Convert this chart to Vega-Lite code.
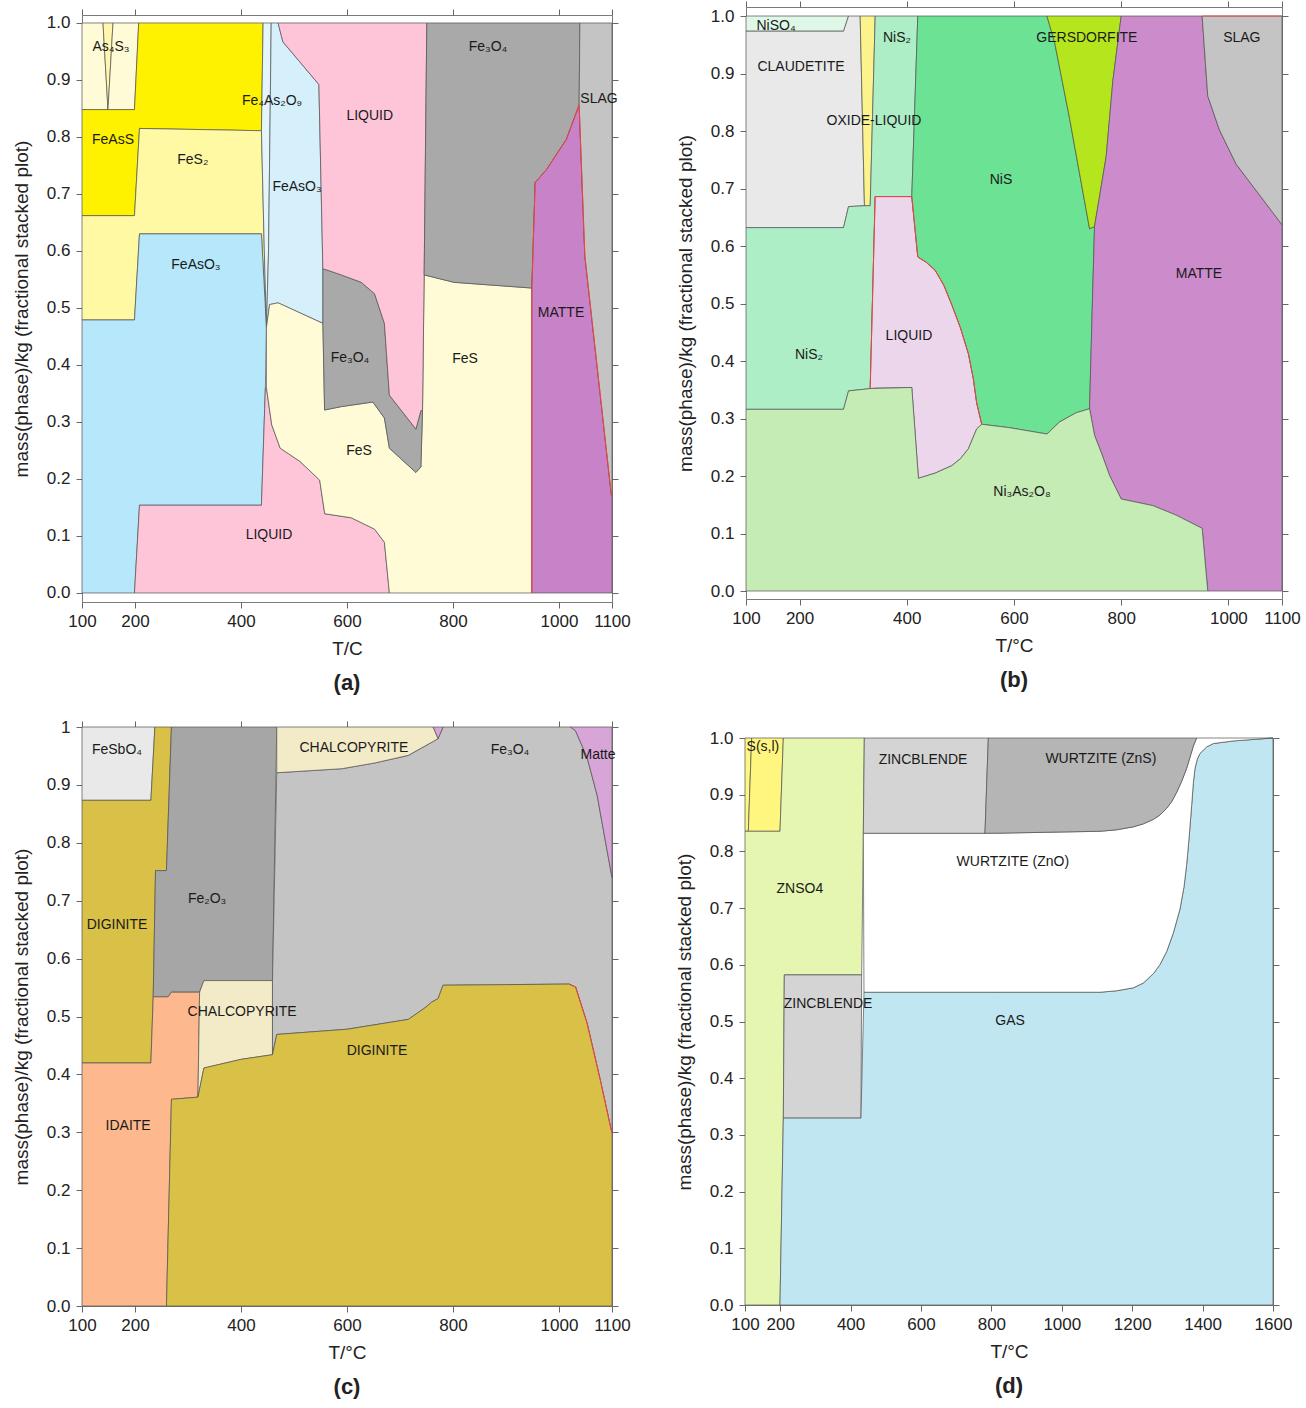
{
"$schema": "https://vega.github.io/schema/vega-lite/v6.json",
"padding": {"left": 11, "top": 0, "right": 0, "bottom": 0},
"background": "white",
"config": {
 "font": "Liberation Sans",
 "view": {"stroke": "#7a7a7a", "strokeWidth": 1},
 "axis": {"labelFontSize": 17, "titleFontSize": 19, "titleFontWeight": "normal", "labelColor": "#222", "titleColor": "#222", "tickColor": "#666", "tickSize": 6, "domain": false, "grid": false, "labelFlush": false, "labelOverlap": false, "labelPadding": 6},
 "axisX": {"labelPadding": 5, "titlePadding": 10},
 "axisY": {"titlePadding": 15},
 "text": {"fontSize": 14, "color": "#1a1a1a", "font": "Liberation Sans"}
},
"datasets": {
 "poly": [
  {"p":"a","r":"a01","T":100,"m":0.848},{"p":"a","r":"a01","T":100,"m":1.0},{"p":"a","r":"a01","T":139.6,"m":1.0},{"p":"a","r":"a01","T":149,"m":0.848},
  {"p":"a","r":"a02","T":139.6,"m":1.0},{"p":"a","r":"a02","T":158.5,"m":1.0},{"p":"a","r":"a02","T":149,"m":0.848},
  {"p":"a","r":"a03","T":158.5,"m":1.0},{"p":"a","r":"a03","T":207,"m":1.0},{"p":"a","r":"a03","T":199,"m":0.848},{"p":"a","r":"a03","T":149,"m":0.848},
  {"p":"a","r":"a04","T":100,"m":0.662},{"p":"a","r":"a04","T":100,"m":0.848},{"p":"a","r":"a04","T":199,"m":0.848},{"p":"a","r":"a04","T":207,"m":1.0},{"p":"a","r":"a04","T":441.7,"m":1.0},{"p":"a","r":"a04","T":438.6,"m":0.811},{"p":"a","r":"a04","T":208.5,"m":0.815},{"p":"a","r":"a04","T":199,"m":0.662},
  {"p":"a","r":"a05","T":100,"m":0.479},{"p":"a","r":"a05","T":100,"m":0.662},{"p":"a","r":"a05","T":199,"m":0.662},{"p":"a","r":"a05","T":208.5,"m":0.815},{"p":"a","r":"a05","T":438.6,"m":0.811},{"p":"a","r":"a05","T":444,"m":0.6},{"p":"a","r":"a05","T":448,"m":0.466},{"p":"a","r":"a05","T":438.6,"m":0.63},{"p":"a","r":"a05","T":208.5,"m":0.63},{"p":"a","r":"a05","T":199,"m":0.479},
  {"p":"a","r":"a06","T":100,"m":0},{"p":"a","r":"a06","T":100,"m":0.479},{"p":"a","r":"a06","T":199,"m":0.479},{"p":"a","r":"a06","T":208.5,"m":0.63},{"p":"a","r":"a06","T":438.6,"m":0.63},{"p":"a","r":"a06","T":448,"m":0.466},{"p":"a","r":"a06","T":446,"m":0.36},{"p":"a","r":"a06","T":438.6,"m":0.154},{"p":"a","r":"a06","T":208.5,"m":0.154},{"p":"a","r":"a06","T":199,"m":0},
  {"p":"a","r":"a07","T":441.7,"m":1.0},{"p":"a","r":"a07","T":457,"m":1.0},{"p":"a","r":"a07","T":452,"m":0.6},{"p":"a","r":"a07","T":448,"m":0.466},{"p":"a","r":"a07","T":444,"m":0.6},{"p":"a","r":"a07","T":438.6,"m":0.811},
  {"p":"a","r":"a08","T":457,"m":1.0},{"p":"a","r":"a08","T":470,"m":1.0},{"p":"a","r":"a08","T":479,"m":0.967},{"p":"a","r":"a08","T":547,"m":0.892},{"p":"a","r":"a08","T":554.5,"m":0.568},{"p":"a","r":"a08","T":554.5,"m":0.473},{"p":"a","r":"a08","T":470,"m":0.509},{"p":"a","r":"a08","T":454,"m":0.506},{"p":"a","r":"a08","T":448,"m":0.466},{"p":"a","r":"a08","T":452,"m":0.6},
  {"p":"a","r":"a09","T":199,"m":0},{"p":"a","r":"a09","T":208.5,"m":0.154},{"p":"a","r":"a09","T":438.6,"m":0.154},{"p":"a","r":"a09","T":446,"m":0.36},{"p":"a","r":"a09","T":448,"m":0.36},{"p":"a","r":"a09","T":458,"m":0.295},{"p":"a","r":"a09","T":474,"m":0.254},{"p":"a","r":"a09","T":511,"m":0.231},{"p":"a","r":"a09","T":548.5,"m":0.198},{"p":"a","r":"a09","T":558,"m":0.139},{"p":"a","r":"a09","T":608,"m":0.132},{"p":"a","r":"a09","T":652,"m":0.112},{"p":"a","r":"a09","T":670.6,"m":0.089},{"p":"a","r":"a09","T":680,"m":0},
  {"p":"a","r":"a10","T":448,"m":0.466},{"p":"a","r":"a10","T":454,"m":0.506},{"p":"a","r":"a10","T":470,"m":0.509},{"p":"a","r":"a10","T":554.5,"m":0.473},{"p":"a","r":"a10","T":557.7,"m":0.321},{"p":"a","r":"a10","T":589.4,"m":0.327},{"p":"a","r":"a10","T":648.75,"m":0.335},{"p":"a","r":"a10","T":670.6,"m":0.307},{"p":"a","r":"a10","T":680,"m":0.254},{"p":"a","r":"a10","T":730,"m":0.2115},{"p":"a","r":"a10","T":739.4,"m":0.221},{"p":"a","r":"a10","T":742.5,"m":0.32},{"p":"a","r":"a10","T":745.6,"m":0.558},{"p":"a","r":"a10","T":801.9,"m":0.545},{"p":"a","r":"a10","T":948.75,"m":0.535},{"p":"a","r":"a10","T":948.75,"m":0},{"p":"a","r":"a10","T":680,"m":0},{"p":"a","r":"a10","T":670.6,"m":0.089},{"p":"a","r":"a10","T":652,"m":0.112},{"p":"a","r":"a10","T":608,"m":0.132},{"p":"a","r":"a10","T":558,"m":0.139},{"p":"a","r":"a10","T":548.5,"m":0.198},{"p":"a","r":"a10","T":511,"m":0.231},{"p":"a","r":"a10","T":474,"m":0.254},{"p":"a","r":"a10","T":458,"m":0.295},{"p":"a","r":"a10","T":448,"m":0.36},
  {"p":"a","r":"a11","T":554.5,"m":0.473},{"p":"a","r":"a11","T":554.5,"m":0.568},{"p":"a","r":"a11","T":557.7,"m":0.568},{"p":"a","r":"a11","T":589.4,"m":0.558},{"p":"a","r":"a11","T":627,"m":0.545},{"p":"a","r":"a11","T":652,"m":0.525},{"p":"a","r":"a11","T":670.6,"m":0.473},{"p":"a","r":"a11","T":680,"m":0.347},{"p":"a","r":"a11","T":730,"m":0.2875},{"p":"a","r":"a11","T":739.4,"m":0.32},{"p":"a","r":"a11","T":742.5,"m":0.32},{"p":"a","r":"a11","T":739.4,"m":0.221},{"p":"a","r":"a11","T":730,"m":0.2115},{"p":"a","r":"a11","T":680,"m":0.254},{"p":"a","r":"a11","T":670.6,"m":0.307},{"p":"a","r":"a11","T":648.75,"m":0.335},{"p":"a","r":"a11","T":589.4,"m":0.327},{"p":"a","r":"a11","T":557.7,"m":0.321},
  {"p":"a","r":"a12","T":470,"m":1.0},{"p":"a","r":"a12","T":750.6,"m":1.0},{"p":"a","r":"a12","T":745.6,"m":0.558},{"p":"a","r":"a12","T":742.5,"m":0.32},{"p":"a","r":"a12","T":739.4,"m":0.32},{"p":"a","r":"a12","T":730,"m":0.2875},{"p":"a","r":"a12","T":680,"m":0.347},{"p":"a","r":"a12","T":670.6,"m":0.473},{"p":"a","r":"a12","T":652,"m":0.525},{"p":"a","r":"a12","T":627,"m":0.545},{"p":"a","r":"a12","T":589.4,"m":0.558},{"p":"a","r":"a12","T":557.7,"m":0.568},{"p":"a","r":"a12","T":554.5,"m":0.568},{"p":"a","r":"a12","T":547,"m":0.892},{"p":"a","r":"a12","T":479,"m":0.967},
  {"p":"a","r":"a13","T":750.6,"m":1.0},{"p":"a","r":"a13","T":1039.4,"m":1.0},{"p":"a","r":"a13","T":1038,"m":0.856},{"p":"a","r":"a13","T":1014,"m":0.796},{"p":"a","r":"a13","T":977,"m":0.7435},{"p":"a","r":"a13","T":955,"m":0.72},{"p":"a","r":"a13","T":948.75,"m":0.535},{"p":"a","r":"a13","T":801.9,"m":0.545},{"p":"a","r":"a13","T":745.6,"m":0.558},
  {"p":"a","r":"a14","T":948.75,"m":0},{"p":"a","r":"a14","T":948.75,"m":0.535},{"p":"a","r":"a14","T":955,"m":0.72},{"p":"a","r":"a14","T":977,"m":0.7435},{"p":"a","r":"a14","T":1014,"m":0.796},{"p":"a","r":"a14","T":1038,"m":0.856},{"p":"a","r":"a14","T":1048.75,"m":0.5915},{"p":"a","r":"a14","T":1098.75,"m":0.172},{"p":"a","r":"a14","T":1100,"m":0.172},{"p":"a","r":"a14","T":1100,"m":0},
  {"p":"a","r":"a15","T":1039.4,"m":1.0},{"p":"a","r":"a15","T":1100,"m":1.0},{"p":"a","r":"a15","T":1100,"m":0.172},{"p":"a","r":"a15","T":1098.75,"m":0.172},{"p":"a","r":"a15","T":1048.75,"m":0.5915},{"p":"a","r":"a15","T":1038,"m":0.856},

  {"p":"b","r":"b01","T":100,"m":0.9736},{"p":"b","r":"b01","T":100,"m":1.0},{"p":"b","r":"b01","T":291.3,"m":1.0},{"p":"b","r":"b01","T":282,"m":0.9736},
  {"p":"b","r":"b02","T":100,"m":0.632},{"p":"b","r":"b02","T":100,"m":0.9736},{"p":"b","r":"b02","T":282,"m":0.9736},{"p":"b","r":"b02","T":291.3,"m":1.0},{"p":"b","r":"b02","T":313,"m":1.0},{"p":"b","r":"b02","T":321,"m":0.67},{"p":"b","r":"b02","T":291.3,"m":0.6686},{"p":"b","r":"b02","T":282,"m":0.632},
  {"p":"b","r":"b03","T":313,"m":1.0},{"p":"b","r":"b03","T":341,"m":1.0},{"p":"b","r":"b03","T":331.7,"m":0.67},{"p":"b","r":"b03","T":321,"m":0.67},
  {"p":"b","r":"b04","T":100,"m":0.316},{"p":"b","r":"b04","T":100,"m":0.632},{"p":"b","r":"b04","T":282,"m":0.632},{"p":"b","r":"b04","T":291.3,"m":0.6686},{"p":"b","r":"b04","T":321,"m":0.67},{"p":"b","r":"b04","T":331.7,"m":0.67},{"p":"b","r":"b04","T":341,"m":1.0},{"p":"b","r":"b04","T":420.5,"m":1.0},{"p":"b","r":"b04","T":409.3,"m":0.686},{"p":"b","r":"b04","T":341,"m":0.686},{"p":"b","r":"b04","T":331.7,"m":0.352},{"p":"b","r":"b04","T":291.3,"m":0.348},{"p":"b","r":"b04","T":282,"m":0.316},
  {"p":"b","r":"b05","T":341,"m":0.686},{"p":"b","r":"b05","T":409.3,"m":0.686},{"p":"b","r":"b05","T":420.5,"m":0.581},{"p":"b","r":"b05","T":436,"m":0.572},{"p":"b","r":"b05","T":452.8,"m":0.558},{"p":"b","r":"b05","T":469,"m":0.532},{"p":"b","r":"b05","T":483.9,"m":0.498},{"p":"b","r":"b05","T":500,"m":0.458},{"p":"b","r":"b05","T":515,"m":0.4125},{"p":"b","r":"b05","T":524,"m":0.37},{"p":"b","r":"b05","T":530.4,"m":0.327},{"p":"b","r":"b05","T":539.8,"m":0.29},{"p":"b","r":"b05","T":530.4,"m":0.282},{"p":"b","r":"b05","T":515,"m":0.2475},{"p":"b","r":"b05","T":500,"m":0.23},{"p":"b","r":"b05","T":483.9,"m":0.218},{"p":"b","r":"b05","T":452.8,"m":0.205},{"p":"b","r":"b05","T":421.7,"m":0.196},{"p":"b","r":"b05","T":409.3,"m":0.354},{"p":"b","r":"b05","T":341,"m":0.353},{"p":"b","r":"b05","T":331.7,"m":0.352},
  {"p":"b","r":"b06","T":420.5,"m":1.0},{"p":"b","r":"b06","T":661.5,"m":1.0},{"p":"b","r":"b06","T":675.8,"m":0.954},{"p":"b","r":"b06","T":703.7,"m":0.822},{"p":"b","r":"b06","T":741,"m":0.63},{"p":"b","r":"b06","T":750.3,"m":0.634},{"p":"b","r":"b06","T":746,"m":0.492},{"p":"b","r":"b06","T":741,"m":0.317},{"p":"b","r":"b06","T":716,"m":0.31},{"p":"b","r":"b06","T":685,"m":0.294},{"p":"b","r":"b06","T":661.5,"m":0.273},{"p":"b","r":"b06","T":591.9,"m":0.284},{"p":"b","r":"b06","T":539.8,"m":0.29},{"p":"b","r":"b06","T":530.4,"m":0.327},{"p":"b","r":"b06","T":524,"m":0.37},{"p":"b","r":"b06","T":515,"m":0.4125},{"p":"b","r":"b06","T":500,"m":0.458},{"p":"b","r":"b06","T":483.9,"m":0.498},{"p":"b","r":"b06","T":469,"m":0.532},{"p":"b","r":"b06","T":452.8,"m":0.558},{"p":"b","r":"b06","T":436,"m":0.572},{"p":"b","r":"b06","T":420.5,"m":0.581},{"p":"b","r":"b06","T":409.3,"m":0.686},
  {"p":"b","r":"b07","T":661.5,"m":1.0},{"p":"b","r":"b07","T":800,"m":1.0},{"p":"b","r":"b07","T":784.5,"m":0.888},{"p":"b","r":"b07","T":772,"m":0.756},{"p":"b","r":"b07","T":750.3,"m":0.634},{"p":"b","r":"b07","T":741,"m":0.63},{"p":"b","r":"b07","T":703.7,"m":0.822},{"p":"b","r":"b07","T":675.8,"m":0.954},
  {"p":"b","r":"b08","T":800,"m":1.0},{"p":"b","r":"b08","T":951,"m":1.0},{"p":"b","r":"b08","T":961.5,"m":0.861},{"p":"b","r":"b08","T":983.2,"m":0.802},{"p":"b","r":"b08","T":1014.3,"m":0.7426},{"p":"b","r":"b08","T":1100,"m":0.637},{"p":"b","r":"b08","T":1100,"m":0},{"p":"b","r":"b08","T":961.5,"m":0},{"p":"b","r":"b08","T":951,"m":0.109},{"p":"b","r":"b08","T":902.5,"m":0.132},{"p":"b","r":"b08","T":859,"m":0.1485},{"p":"b","r":"b08","T":800,"m":0.16},{"p":"b","r":"b08","T":778.3,"m":0.201},{"p":"b","r":"b08","T":762.7,"m":0.241},{"p":"b","r":"b08","T":750.3,"m":0.2706},{"p":"b","r":"b08","T":741,"m":0.317},{"p":"b","r":"b08","T":746,"m":0.492},{"p":"b","r":"b08","T":750.3,"m":0.634},{"p":"b","r":"b08","T":772,"m":0.756},{"p":"b","r":"b08","T":784.5,"m":0.888},
  {"p":"b","r":"b09","T":951,"m":1.0},{"p":"b","r":"b09","T":1100,"m":1.0},{"p":"b","r":"b09","T":1100,"m":0.637},{"p":"b","r":"b09","T":1014.3,"m":0.7426},{"p":"b","r":"b09","T":983.2,"m":0.802},{"p":"b","r":"b09","T":961.5,"m":0.861},
  {"p":"b","r":"b10","T":100,"m":0},{"p":"b","r":"b10","T":100,"m":0.316},{"p":"b","r":"b10","T":282,"m":0.316},{"p":"b","r":"b10","T":291.3,"m":0.348},{"p":"b","r":"b10","T":331.7,"m":0.352},{"p":"b","r":"b10","T":409.3,"m":0.354},{"p":"b","r":"b10","T":421.7,"m":0.196},{"p":"b","r":"b10","T":452.8,"m":0.205},{"p":"b","r":"b10","T":483.9,"m":0.218},{"p":"b","r":"b10","T":500,"m":0.23},{"p":"b","r":"b10","T":515,"m":0.2475},{"p":"b","r":"b10","T":530.4,"m":0.282},{"p":"b","r":"b10","T":539.8,"m":0.29},{"p":"b","r":"b10","T":591.9,"m":0.284},{"p":"b","r":"b10","T":661.5,"m":0.273},{"p":"b","r":"b10","T":685,"m":0.294},{"p":"b","r":"b10","T":716,"m":0.31},{"p":"b","r":"b10","T":741,"m":0.317},{"p":"b","r":"b10","T":750.3,"m":0.2706},{"p":"b","r":"b10","T":762.7,"m":0.241},{"p":"b","r":"b10","T":778.3,"m":0.201},{"p":"b","r":"b10","T":800,"m":0.16},{"p":"b","r":"b10","T":859,"m":0.1485},{"p":"b","r":"b10","T":902.5,"m":0.132},{"p":"b","r":"b10","T":951,"m":0.109},{"p":"b","r":"b10","T":961.5,"m":0},

  {"p":"c","r":"c01","T":100,"m":0.8734},{"p":"c","r":"c01","T":100,"m":1.0},{"p":"c","r":"c01","T":237.5,"m":1.0},{"p":"c","r":"c01","T":230,"m":0.8734},
  {"p":"c","r":"c02","T":100,"m":0.4197},{"p":"c","r":"c02","T":100,"m":0.8734},{"p":"c","r":"c02","T":230,"m":0.8734},{"p":"c","r":"c02","T":237.5,"m":1.0},{"p":"c","r":"c02","T":268.75,"m":1.0},{"p":"c","r":"c02","T":259.4,"m":0.752},{"p":"c","r":"c02","T":238.75,"m":0.752},{"p":"c","r":"c02","T":234.4,"m":0.534},{"p":"c","r":"c02","T":230,"m":0.4197},
  {"p":"c","r":"c03","T":268.75,"m":1.0},{"p":"c","r":"c03","T":467.5,"m":1.0},{"p":"c","r":"c03","T":459.4,"m":0.562},{"p":"c","r":"c03","T":330,"m":0.562},{"p":"c","r":"c03","T":321.9,"m":0.542},{"p":"c","r":"c03","T":268.75,"m":0.542},{"p":"c","r":"c03","T":262.5,"m":0.534},{"p":"c","r":"c03","T":234.4,"m":0.534},{"p":"c","r":"c03","T":238.75,"m":0.752},{"p":"c","r":"c03","T":259.4,"m":0.752},
  {"p":"c","r":"c04","T":100,"m":0},{"p":"c","r":"c04","T":100,"m":0.4197},{"p":"c","r":"c04","T":230,"m":0.4197},{"p":"c","r":"c04","T":234.4,"m":0.534},{"p":"c","r":"c04","T":262.5,"m":0.534},{"p":"c","r":"c04","T":268.75,"m":0.542},{"p":"c","r":"c04","T":321.9,"m":0.542},{"p":"c","r":"c04","T":318.75,"m":0.3607},{"p":"c","r":"c04","T":268.75,"m":0.357},{"p":"c","r":"c04","T":259.4,"m":0},
  {"p":"c","r":"c05","T":321.9,"m":0.542},{"p":"c","r":"c05","T":330,"m":0.562},{"p":"c","r":"c05","T":459.4,"m":0.562},{"p":"c","r":"c05","T":459.4,"m":0.434},{"p":"c","r":"c05","T":400,"m":0.426},{"p":"c","r":"c05","T":330,"m":0.411},{"p":"c","r":"c05","T":318.75,"m":0.3607},
  {"p":"c","r":"c06","T":467.5,"m":0.921},{"p":"c","r":"c06","T":590.6,"m":0.928},{"p":"c","r":"c06","T":653,"m":0.938},{"p":"c","r":"c06","T":715.6,"m":0.951},{"p":"c","r":"c06","T":746.9,"m":0.967},{"p":"c","r":"c06","T":762.5,"m":0.975},{"p":"c","r":"c06","T":771.9,"m":0.98},{"p":"c","r":"c06","T":781.25,"m":1.0},{"p":"c","r":"c06","T":1021.9,"m":1.0},{"p":"c","r":"c06","T":1031.25,"m":0.9934},{"p":"c","r":"c06","T":1053,"m":0.9475},{"p":"c","r":"c06","T":1072,"m":0.882},{"p":"c","r":"c06","T":1087.5,"m":0.803},{"p":"c","r":"c06","T":1100,"m":0.74},{"p":"c","r":"c06","T":1100,"m":0.298},{"p":"c","r":"c06","T":1078,"m":0.39},{"p":"c","r":"c06","T":1053,"m":0.4885},{"p":"c","r":"c06","T":1031.25,"m":0.551},{"p":"c","r":"c06","T":1018.75,"m":0.556},{"p":"c","r":"c06","T":781.25,"m":0.554},{"p":"c","r":"c06","T":771.9,"m":0.531},{"p":"c","r":"c06","T":759.4,"m":0.5246},{"p":"c","r":"c06","T":746.9,"m":0.5148},{"p":"c","r":"c06","T":715.6,"m":0.495},{"p":"c","r":"c06","T":600,"m":0.478},{"p":"c","r":"c06","T":467.5,"m":0.469},{"p":"c","r":"c06","T":459.4,"m":0.434},{"p":"c","r":"c06","T":459.4,"m":0.562},
  {"p":"c","r":"c07","T":467.5,"m":1.0},{"p":"c","r":"c07","T":762.5,"m":1.0},{"p":"c","r":"c07","T":771.9,"m":0.98},{"p":"c","r":"c07","T":762.5,"m":0.975},{"p":"c","r":"c07","T":746.9,"m":0.967},{"p":"c","r":"c07","T":715.6,"m":0.951},{"p":"c","r":"c07","T":653,"m":0.938},{"p":"c","r":"c07","T":590.6,"m":0.928},{"p":"c","r":"c07","T":467.5,"m":0.921},
  {"p":"c","r":"c08","T":762.5,"m":1.0},{"p":"c","r":"c08","T":781.25,"m":1.0},{"p":"c","r":"c08","T":771.9,"m":0.98},
  {"p":"c","r":"c09","T":259.4,"m":0},{"p":"c","r":"c09","T":268.75,"m":0.357},{"p":"c","r":"c09","T":318.75,"m":0.3607},{"p":"c","r":"c09","T":330,"m":0.411},{"p":"c","r":"c09","T":400,"m":0.426},{"p":"c","r":"c09","T":459.4,"m":0.434},{"p":"c","r":"c09","T":467.5,"m":0.469},{"p":"c","r":"c09","T":600,"m":0.478},{"p":"c","r":"c09","T":715.6,"m":0.495},{"p":"c","r":"c09","T":746.9,"m":0.5148},{"p":"c","r":"c09","T":759.4,"m":0.5246},{"p":"c","r":"c09","T":771.9,"m":0.531},{"p":"c","r":"c09","T":781.25,"m":0.554},{"p":"c","r":"c09","T":1018.75,"m":0.556},{"p":"c","r":"c09","T":1031.25,"m":0.551},{"p":"c","r":"c09","T":1053,"m":0.4885},{"p":"c","r":"c09","T":1078,"m":0.39},{"p":"c","r":"c09","T":1100,"m":0.298},{"p":"c","r":"c09","T":1100,"m":0},
  {"p":"c","r":"c10","T":1021.9,"m":1.0},{"p":"c","r":"c10","T":1100,"m":1.0},{"p":"c","r":"c10","T":1100,"m":0.74},{"p":"c","r":"c10","T":1087.5,"m":0.803},{"p":"c","r":"c10","T":1072,"m":0.882},{"p":"c","r":"c10","T":1053,"m":0.9475},{"p":"c","r":"c10","T":1031.25,"m":0.9934},

  {"p":"d","r":"d01","T":100,"m":0.8355},{"p":"d","r":"d01","T":100,"m":1.0},{"p":"d","r":"d01","T":118.9,"m":1.0},{"p":"d","r":"d01","T":109.5,"m":0.8355},
  {"p":"d","r":"d02","T":109.5,"m":0.8355},{"p":"d","r":"d02","T":118.9,"m":1.0},{"p":"d","r":"d02","T":208.9,"m":1.0},{"p":"d","r":"d02","T":199.4,"m":0.8355},
  {"p":"d","r":"d03","T":100,"m":0},{"p":"d","r":"d03","T":100,"m":0.8355},{"p":"d","r":"d03","T":199.4,"m":0.8355},{"p":"d","r":"d03","T":208.9,"m":1.0},{"p":"d","r":"d03","T":439,"m":1.0},{"p":"d","r":"d03","T":436.2,"m":0.832},{"p":"d","r":"d03","T":431.4,"m":0.5822},{"p":"d","r":"d03","T":211.7,"m":0.5822},{"p":"d","r":"d03","T":208.9,"m":0.3296},{"p":"d","r":"d03","T":199.4,"m":0},
  {"p":"d","r":"d04","T":211.7,"m":0.5822},{"p":"d","r":"d04","T":431.4,"m":0.5822},{"p":"d","r":"d04","T":429.5,"m":0.3296},{"p":"d","r":"d04","T":208.9,"m":0.3296},
  {"p":"d","r":"d05","T":199.4,"m":0},{"p":"d","r":"d05","T":208.9,"m":0.3296},{"p":"d","r":"d05","T":429.5,"m":0.3296},{"p":"d","r":"d05","T":438,"m":0.5516},{"p":"d","r":"d05","T":824.4,"m":0.5516},{"p":"d","r":"d05","T":1108.5,"m":0.5516},{"p":"d","r":"d05","T":1155.9,"m":0.5542},{"p":"d","r":"d05","T":1203.2,"m":0.5594},{"p":"d","r":"d05","T":1231.6,"m":0.5679},{"p":"d","r":"d05","T":1260,"m":0.5842},{"p":"d","r":"d05","T":1279,"m":0.6005},{"p":"d","r":"d05","T":1297.9,"m":0.6234},{"p":"d","r":"d05","T":1316.8,"m":0.656},{"p":"d","r":"d05","T":1335.8,"m":0.6984},{"p":"d","r":"d05","T":1347.2,"m":0.7376},{"p":"d","r":"d05","T":1354.7,"m":0.7768},{"p":"d","r":"d05","T":1361.4,"m":0.8225},{"p":"d","r":"d05","T":1368.9,"m":0.8812},{"p":"d","r":"d05","T":1373.7,"m":0.9204},{"p":"d","r":"d05","T":1378.4,"m":0.9465},{"p":"d","r":"d05","T":1385,"m":0.9628},{"p":"d","r":"d05","T":1392.6,"m":0.9726},{"p":"d","r":"d05","T":1411.6,"m":0.9843},{"p":"d","r":"d05","T":1430.5,"m":0.9902},{"p":"d","r":"d05","T":1487.3,"m":0.9948},{"p":"d","r":"d05","T":1600,"m":1.0},{"p":"d","r":"d05","T":1600,"m":0},
  {"p":"d","r":"d06","T":436.2,"m":0.832},{"p":"d","r":"d06","T":438,"m":0.5516},{"p":"d","r":"d06","T":824.4,"m":0.5516},{"p":"d","r":"d06","T":1108.5,"m":0.5516},{"p":"d","r":"d06","T":1155.9,"m":0.5542},{"p":"d","r":"d06","T":1203.2,"m":0.5594},{"p":"d","r":"d06","T":1231.6,"m":0.5679},{"p":"d","r":"d06","T":1260,"m":0.5842},{"p":"d","r":"d06","T":1279,"m":0.6005},{"p":"d","r":"d06","T":1297.9,"m":0.6234},{"p":"d","r":"d06","T":1316.8,"m":0.656},{"p":"d","r":"d06","T":1335.8,"m":0.6984},{"p":"d","r":"d06","T":1347.2,"m":0.7376},{"p":"d","r":"d06","T":1354.7,"m":0.7768},{"p":"d","r":"d06","T":1361.4,"m":0.8225},{"p":"d","r":"d06","T":1368.9,"m":0.8812},{"p":"d","r":"d06","T":1373.7,"m":0.9204},{"p":"d","r":"d06","T":1378.4,"m":0.9465},{"p":"d","r":"d06","T":1385,"m":0.9628},{"p":"d","r":"d06","T":1392.6,"m":0.9726},{"p":"d","r":"d06","T":1411.6,"m":0.9843},{"p":"d","r":"d06","T":1430.5,"m":0.9902},{"p":"d","r":"d06","T":1487.3,"m":0.9948},{"p":"d","r":"d06","T":1600,"m":1.0},{"p":"d","r":"d06","T":1383,"m":1.0},{"p":"d","r":"d06","T":1373.7,"m":0.9856},{"p":"d","r":"d06","T":1364.2,"m":0.9661},{"p":"d","r":"d06","T":1354.7,"m":0.9465},{"p":"d","r":"d06","T":1340.5,"m":0.9236},{"p":"d","r":"d06","T":1326.3,"m":0.904},{"p":"d","r":"d06","T":1312.1,"m":0.8877},{"p":"d","r":"d06","T":1297.9,"m":0.876},{"p":"d","r":"d06","T":1279,"m":0.8642},{"p":"d","r":"d06","T":1260,"m":0.8564},{"p":"d","r":"d06","T":1231.6,"m":0.8486},{"p":"d","r":"d06","T":1203.2,"m":0.8433},{"p":"d","r":"d06","T":1155.9,"m":0.8381},{"p":"d","r":"d06","T":1108.5,"m":0.8355},{"p":"d","r":"d06","T":824.4,"m":0.8322},{"p":"d","r":"d06","T":781.8,"m":0.832},
  {"p":"d","r":"d07","T":439,"m":1.0},{"p":"d","r":"d07","T":791.3,"m":1.0},{"p":"d","r":"d07","T":781.8,"m":0.832},{"p":"d","r":"d07","T":436.2,"m":0.832},
  {"p":"d","r":"d08","T":791.3,"m":1.0},{"p":"d","r":"d08","T":1383,"m":1.0},{"p":"d","r":"d08","T":1373.7,"m":0.9856},{"p":"d","r":"d08","T":1364.2,"m":0.9661},{"p":"d","r":"d08","T":1354.7,"m":0.9465},{"p":"d","r":"d08","T":1340.5,"m":0.9236},{"p":"d","r":"d08","T":1326.3,"m":0.904},{"p":"d","r":"d08","T":1312.1,"m":0.8877},{"p":"d","r":"d08","T":1297.9,"m":0.876},{"p":"d","r":"d08","T":1279,"m":0.8642},{"p":"d","r":"d08","T":1260,"m":0.8564},{"p":"d","r":"d08","T":1231.6,"m":0.8486},{"p":"d","r":"d08","T":1203.2,"m":0.8433},{"p":"d","r":"d08","T":1155.9,"m":0.8381},{"p":"d","r":"d08","T":1108.5,"m":0.8355},{"p":"d","r":"d08","T":824.4,"m":0.8322},{"p":"d","r":"d08","T":781.8,"m":0.832}
 ],
 "edges": [
  {"p":"a","e":"ea1","T":948.75,"m":0},{"p":"a","e":"ea1","T":948.75,"m":0.535},{"p":"a","e":"ea1","T":955,"m":0.72},{"p":"a","e":"ea1","T":977,"m":0.7435},{"p":"a","e":"ea1","T":1014,"m":0.796},{"p":"a","e":"ea1","T":1038,"m":0.856},{"p":"a","e":"ea1","T":1048.75,"m":0.5915},{"p":"a","e":"ea1","T":1098.75,"m":0.172},{"p":"a","e":"ea1","T":1100,"m":0.172},
  {"p":"b","e":"eb1","T":331.7,"m":0.352},{"p":"b","e":"eb1","T":341,"m":0.686},{"p":"b","e":"eb1","T":409.3,"m":0.686},{"p":"b","e":"eb1","T":420.5,"m":0.581},{"p":"b","e":"eb1","T":436,"m":0.572},{"p":"b","e":"eb1","T":452.8,"m":0.558},{"p":"b","e":"eb1","T":469,"m":0.532},{"p":"b","e":"eb1","T":483.9,"m":0.498},{"p":"b","e":"eb1","T":500,"m":0.458},{"p":"b","e":"eb1","T":515,"m":0.4125},{"p":"b","e":"eb1","T":524,"m":0.37},{"p":"b","e":"eb1","T":530.4,"m":0.327},{"p":"b","e":"eb1","T":539.8,"m":0.29},
  {"p":"b","e":"eb2","T":951,"m":1.0},{"p":"b","e":"eb2","T":1100,"m":1.0},
  {"p":"c","e":"ec1","T":1018.75,"m":0.556},{"p":"c","e":"ec1","T":1031.25,"m":0.551},{"p":"c","e":"ec1","T":1053,"m":0.4885},{"p":"c","e":"ec1","T":1078,"m":0.39},{"p":"c","e":"ec1","T":1100,"m":0.298}
 ],
 "labels": [
  {"p":"a","t":"As₄S₃","T":154.7,"m":0.958},{"p":"a","t":"FeAsS","T":158.5,"m":0.795},{"p":"a","t":"FeS₂","T":309,"m":0.76},{"p":"a","t":"FeAsO₃","T":315,"m":0.575},{"p":"a","t":"Fe₄As₂O₉","T":458.5,"m":0.863},{"p":"a","t":"FeAsO₃","T":505.7,"m":0.712},{"p":"a","t":"LIQUID","T":643,"m":0.837},{"p":"a","t":"Fe₃O₄","T":866,"m":0.958},{"p":"a","t":"SLAG","T":1075.5,"m":0.867},{"p":"a","t":"MATTE","T":1003.8,"m":0.491},{"p":"a","t":"Fe₃O₄","T":605.7,"m":0.412},{"p":"a","t":"FeS","T":822.6,"m":0.41},{"p":"a","t":"FeS","T":622.6,"m":0.249},{"p":"a","t":"LIQUID","T":452.8,"m":0.102},
  {"p":"b","t":"NiSO₄","T":156,"m":0.983},{"p":"b","t":"NiS₂","T":381.7,"m":0.962},{"p":"b","t":"CLAUDETITE","T":202.6,"m":0.911},{"p":"b","t":"OXIDE-LIQUID","T":338.8,"m":0.817},{"p":"b","t":"NiS","T":575.7,"m":0.715},{"p":"b","t":"GERSDORFITE","T":736,"m":0.962},{"p":"b","t":"SLAG","T":1025,"m":0.962},{"p":"b","t":"MATTE","T":945,"m":0.551},{"p":"b","t":"LIQUID","T":404,"m":0.443},{"p":"b","t":"NiS₂","T":217.5,"m":0.41},{"p":"b","t":"Ni₃As₂O₈","T":615,"m":0.172},
  {"p":"c","t":"FeSbO₄","T":166,"m":0.96},{"p":"c","t":"DIGINITE","T":166,"m":0.658},{"p":"c","t":"Fe₂O₃","T":336,"m":0.703},{"p":"c","t":"CHALCOPYRITE","T":402,"m":0.508},{"p":"c","t":"IDAITE","T":187,"m":0.311},{"p":"c","t":"CHALCOPYRITE","T":613,"m":0.964},{"p":"c","t":"Fe₃O₄","T":907.5,"m":0.96},{"p":"c","t":"Matte","T":1073.6,"m":0.952},{"p":"c","t":"DIGINITE","T":656.6,"m":0.44},
  {"p":"d","t":"S(s,l)","T":151,"m":0.984},{"p":"d","t":"ZINCBLENDE","T":605.7,"m":0.961},{"p":"d","t":"WURTZITE (ZnS)","T":1111,"m":0.963},{"p":"d","t":"WURTZITE (ZnO)","T":861,"m":0.781},{"p":"d","t":"ZNSO4","T":256,"m":0.734},{"p":"d","t":"ZINCBLENDE","T":336,"m":0.531},{"p":"d","t":"GAS","T":853,"m":0.501}
 ],
 "spacer": [{"s": 0}]
},
"vconcat": [
 {"hconcat": [
  {"vconcat": [
   {"width": 530, "height": 1, "data": {"name": "spacer"}, "mark": {"type": "rule", "strokeOpacity": 0}, "encoding": {}, "view": {"stroke": null}},
   {"width": 530, "height": 587,
   "title": {"text": "(a)", "orient": "bottom", "fontSize": 22, "fontWeight": "bold", "offset": 15, "color": "#222"},
   "layer": [
    {"data": {"name": "poly"}, "transform": [{"filter": "datum.p == 'a'"}],
     "mark": {"type": "line", "filled": true, "interpolate": "linear-closed", "stroke": "#505050", "strokeWidth": 0.7},
     "encoding": {
      "x": {"field": "T", "type": "quantitative", "scale": {"domain": [100, 1100], "nice": false, "zero": false}, "axis": {"values": [100,200,400,600,800,1000,1100], "format": "d", "title": "T/C"}},
      "y": {"field": "m", "type": "quantitative", "scale": {"domain": [-0.0158, 1.014], "nice": false, "zero": false}, "axis": {"values": [0,0.1,0.2,0.3,0.4,0.5,0.6,0.7,0.8,0.9,1], "format": ".1f", "title": "mass(phase)/kg (fractional stacked plot)"}},
      "color": {"field": "r", "type": "nominal", "legend": null, "scale": {"domain": ["a01","a02","a03","a04","a05","a06","a07","a08","a09","a10","a11","a12","a13","a14","a15","b01","b02","b03","b04","b05","b06","b07","b08","b09","b10","c01","c02","c03","c04","c05","c06","c07","c08","c09","c10","d01","d02","d03","d04","d05","d06","d07","d08"], "range": ["#fffbd6","#fff6b0","#fffbd6","#fff200","#fff9a3","#b6e7fa","#e4f5fb","#d5effb","#fec5d9","#fffbd6","#a9a9a9","#fec5d9","#a9a9a9","#c882c8","#c4c4c4","#dff7e6","#e9e9e9","#fcf38c","#aeeec7","#ebd6ec","#6be294","#b5e61d","#cc8ccc","#c4c4c4","#c6ecb6","#e9e9e9","#d9c046","#a6a6a6","#feb88d","#f3eac8","#c4c4c4","#f3eac8","#d7a5d7","#d9c046","#d7a5d7","#fff680","#fff680","#e5f6b1","#d4d4d4","#c0e7f1","#ffffff","#d4d4d4","#b5b5b5"]}},
      "order": {"value": null}
     }},
    {"data": {"name": "edges"}, "transform": [{"filter": "datum.p == 'a'"}],
     "mark": {"type": "line", "stroke": "#ff3c3c", "strokeWidth": 0.9},
     "encoding": {
      "x": {"field": "T", "type": "quantitative", "scale": {"domain": [100, 1100], "nice": false, "zero": false}, "axis": null},
      "y": {"field": "m", "type": "quantitative", "scale": {"domain": [-0.0158, 1.014], "nice": false, "zero": false}, "axis": null},
      "detail": {"field": "e"},
      "order": {"value": null}
     }},
    {"data": {"name": "labels"}, "transform": [{"filter": "datum.p == 'a'"}],
     "mark": {"type": "text"},
     "encoding": {
      "x": {"field": "T", "type": "quantitative", "scale": {"domain": [100, 1100], "nice": false, "zero": false}, "axis": {"orient": "top", "values": [100,200,400,600,800,1000,1100], "labels": false, "title": null}},
      "y": {"field": "m", "type": "quantitative", "scale": {"domain": [-0.0158, 1.014], "nice": false, "zero": false}, "axis": {"orient": "right", "values": [0,0.1,0.2,0.3,0.4,0.5,0.6,0.7,0.8,0.9,1], "labels": false, "title": null}},
      "text": {"field": "t"}
     }}
   ],
   "resolve": {"axis": {"x": "independent", "y": "independent"}}
   }
  ], "spacing": 0},
  {"width": 536, "height": 592,
   "title": {"text": "(b)", "orient": "bottom", "fontSize": 22, "fontWeight": "bold", "offset": 15, "color": "#222"},
   "layer": [
    {"data": {"name": "poly"}, "transform": [{"filter": "datum.p == 'b'"}],
     "mark": {"type": "line", "filled": true, "interpolate": "linear-closed", "stroke": "#505050", "strokeWidth": 0.7},
     "encoding": {
      "x": {"field": "T", "type": "quantitative", "scale": {"domain": [100, 1100], "nice": false, "zero": false}, "axis": {"values": [100,200,400,600,800,1000,1100], "format": "d", "title": "T/°C"}},
      "y": {"field": "m", "type": "quantitative", "scale": {"domain": [-0.0139, 1.0157], "nice": false, "zero": false}, "axis": {"values": [0,0.1,0.2,0.3,0.4,0.5,0.6,0.7,0.8,0.9,1], "format": ".1f", "title": "mass(phase)/kg (fractional stacked plot)"}},
      "color": {"field": "r", "type": "nominal", "legend": null, "scale": {"domain": ["a01","a02","a03","a04","a05","a06","a07","a08","a09","a10","a11","a12","a13","a14","a15","b01","b02","b03","b04","b05","b06","b07","b08","b09","b10","c01","c02","c03","c04","c05","c06","c07","c08","c09","c10","d01","d02","d03","d04","d05","d06","d07","d08"], "range": ["#fffbd6","#fff6b0","#fffbd6","#fff200","#fff9a3","#b6e7fa","#e4f5fb","#d5effb","#fec5d9","#fffbd6","#a9a9a9","#fec5d9","#a9a9a9","#c882c8","#c4c4c4","#dff7e6","#e9e9e9","#fcf38c","#aeeec7","#ebd6ec","#6be294","#b5e61d","#cc8ccc","#c4c4c4","#c6ecb6","#e9e9e9","#d9c046","#a6a6a6","#feb88d","#f3eac8","#c4c4c4","#f3eac8","#d7a5d7","#d9c046","#d7a5d7","#fff680","#fff680","#e5f6b1","#d4d4d4","#c0e7f1","#ffffff","#d4d4d4","#b5b5b5"]}},
      "order": {"value": null}
     }},
    {"data": {"name": "edges"}, "transform": [{"filter": "datum.p == 'b'"}],
     "mark": {"type": "line", "stroke": "#ff3c3c", "strokeWidth": 0.9},
     "encoding": {
      "x": {"field": "T", "type": "quantitative", "scale": {"domain": [100, 1100], "nice": false, "zero": false}, "axis": null},
      "y": {"field": "m", "type": "quantitative", "scale": {"domain": [-0.0139, 1.0157], "nice": false, "zero": false}, "axis": null},
      "detail": {"field": "e"},
      "order": {"value": null}
     }},
    {"data": {"name": "labels"}, "transform": [{"filter": "datum.p == 'b'"}],
     "mark": {"type": "text"},
     "encoding": {
      "x": {"field": "T", "type": "quantitative", "scale": {"domain": [100, 1100], "nice": false, "zero": false}, "axis": {"orient": "top", "values": [100,200,400,600,800,1000,1100], "labels": false, "title": null}},
      "y": {"field": "m", "type": "quantitative", "scale": {"domain": [-0.0139, 1.0157], "nice": false, "zero": false}, "axis": {"orient": "right", "values": [0,0.1,0.2,0.3,0.4,0.5,0.6,0.7,0.8,0.9,1], "labels": false, "title": null}},
      "text": {"field": "t"}
     }}
   ],
   "resolve": {"axis": {"x": "independent", "y": "independent"}}
  }
 ], "spacing": 44, "resolve": {"scale": {"color": "independent"}}},
 {"hconcat": [
  {"width": 530, "height": 579,
   "title": {"text": "(c)", "orient": "bottom", "fontSize": 22, "fontWeight": "bold", "offset": 15, "color": "#222"},
   "layer": [
    {"data": {"name": "poly"}, "transform": [{"filter": "datum.p == 'c'"}],
     "mark": {"type": "line", "filled": true, "interpolate": "linear-closed", "stroke": "#505050", "strokeWidth": 0.7},
     "encoding": {
      "x": {"field": "T", "type": "quantitative", "scale": {"domain": [100, 1100], "nice": false, "zero": false}, "axis": {"values": [100,200,400,600,800,1000,1100], "format": "d", "title": "T/°C"}},
      "y": {"field": "m", "type": "quantitative", "scale": {"domain": [0, 1], "nice": false, "zero": false}, "axis": {"values": [0,0.1,0.2,0.3,0.4,0.5,0.6,0.7,0.8,0.9,1], "labelExpr": "datum.value == 1 ? '1' : format(datum.value, '.1f')", "title": "mass(phase)/kg (fractional stacked plot)"}},
      "color": {"field": "r", "type": "nominal", "legend": null, "scale": {"domain": ["a01","a02","a03","a04","a05","a06","a07","a08","a09","a10","a11","a12","a13","a14","a15","b01","b02","b03","b04","b05","b06","b07","b08","b09","b10","c01","c02","c03","c04","c05","c06","c07","c08","c09","c10","d01","d02","d03","d04","d05","d06","d07","d08"], "range": ["#fffbd6","#fff6b0","#fffbd6","#fff200","#fff9a3","#b6e7fa","#e4f5fb","#d5effb","#fec5d9","#fffbd6","#a9a9a9","#fec5d9","#a9a9a9","#c882c8","#c4c4c4","#dff7e6","#e9e9e9","#fcf38c","#aeeec7","#ebd6ec","#6be294","#b5e61d","#cc8ccc","#c4c4c4","#c6ecb6","#e9e9e9","#d9c046","#a6a6a6","#feb88d","#f3eac8","#c4c4c4","#f3eac8","#d7a5d7","#d9c046","#d7a5d7","#fff680","#fff680","#e5f6b1","#d4d4d4","#c0e7f1","#ffffff","#d4d4d4","#b5b5b5"]}},
      "order": {"value": null}
     }},
    {"data": {"name": "edges"}, "transform": [{"filter": "datum.p == 'c'"}],
     "mark": {"type": "line", "stroke": "#ff3c3c", "strokeWidth": 0.9},
     "encoding": {
      "x": {"field": "T", "type": "quantitative", "scale": {"domain": [100, 1100], "nice": false, "zero": false}, "axis": null},
      "y": {"field": "m", "type": "quantitative", "scale": {"domain": [0, 1], "nice": false, "zero": false}, "axis": null},
      "detail": {"field": "e"},
      "order": {"value": null}
     }},
    {"data": {"name": "labels"}, "transform": [{"filter": "datum.p == 'c'"}],
     "mark": {"type": "text"},
     "encoding": {
      "x": {"field": "T", "type": "quantitative", "scale": {"domain": [100, 1100], "nice": false, "zero": false}, "axis": {"orient": "top", "values": [100,200,400,600,800,1000,1100], "labels": false, "title": null}},
      "y": {"field": "m", "type": "quantitative", "scale": {"domain": [0, 1], "nice": false, "zero": false}, "axis": {"orient": "right", "values": [0,0.1,0.2,0.3,0.4,0.5,0.6,0.7,0.8,0.9,1], "labels": false, "title": null}},
      "text": {"field": "t"}
     }}
   ],
   "resolve": {"axis": {"x": "independent", "y": "independent"}}
  },
  {"vconcat": [
   {"width": 528, "height": 1, "data": {"name": "spacer"}, "mark": {"type": "rule", "strokeOpacity": 0}, "encoding": {}, "view": {"stroke": null}},
   {"width": 528, "height": 567,
   "title": {"text": "(d)", "orient": "bottom", "fontSize": 22, "fontWeight": "bold", "offset": 15, "color": "#222"},
   "layer": [
    {"data": {"name": "poly"}, "transform": [{"filter": "datum.p == 'd'"}],
     "mark": {"type": "line", "filled": true, "interpolate": "linear-closed", "stroke": "#505050", "strokeWidth": 0.7},
     "encoding": {
      "x": {"field": "T", "type": "quantitative", "scale": {"domain": [100, 1600], "nice": false, "zero": false}, "axis": {"values": [100,200,400,600,800,1000,1200,1400,1600], "format": "d", "title": "T/°C"}},
      "y": {"field": "m", "type": "quantitative", "scale": {"domain": [0, 1], "nice": false, "zero": false}, "axis": {"values": [0,0.1,0.2,0.3,0.4,0.5,0.6,0.7,0.8,0.9,1], "format": ".1f", "title": "mass(phase)/kg (fractional stacked plot)"}},
      "color": {"field": "r", "type": "nominal", "legend": null, "scale": {"domain": ["a01","a02","a03","a04","a05","a06","a07","a08","a09","a10","a11","a12","a13","a14","a15","b01","b02","b03","b04","b05","b06","b07","b08","b09","b10","c01","c02","c03","c04","c05","c06","c07","c08","c09","c10","d01","d02","d03","d04","d05","d06","d07","d08"], "range": ["#fffbd6","#fff6b0","#fffbd6","#fff200","#fff9a3","#b6e7fa","#e4f5fb","#d5effb","#fec5d9","#fffbd6","#a9a9a9","#fec5d9","#a9a9a9","#c882c8","#c4c4c4","#dff7e6","#e9e9e9","#fcf38c","#aeeec7","#ebd6ec","#6be294","#b5e61d","#cc8ccc","#c4c4c4","#c6ecb6","#e9e9e9","#d9c046","#a6a6a6","#feb88d","#f3eac8","#c4c4c4","#f3eac8","#d7a5d7","#d9c046","#d7a5d7","#fff680","#fff680","#e5f6b1","#d4d4d4","#c0e7f1","#ffffff","#d4d4d4","#b5b5b5"]}},
      "order": {"value": null}
     }},
    {"data": {"name": "labels"}, "transform": [{"filter": "datum.p == 'd'"}],
     "mark": {"type": "text"},
     "encoding": {
      "x": {"field": "T", "type": "quantitative", "scale": {"domain": [100, 1600], "nice": false, "zero": false}, "axis": null},
      "y": {"field": "m", "type": "quantitative", "scale": {"domain": [0, 1], "nice": false, "zero": false}, "axis": {"orient": "right", "values": [0,0.1,0.2,0.3,0.4,0.5,0.6,0.7,0.8,0.9,1], "labels": false, "title": null}},
      "text": {"field": "t"}
     }}
   ],
   "resolve": {"axis": {"x": "independent", "y": "independent"}}
   }
  ], "spacing": 0}
 ], "spacing": 43, "resolve": {"scale": {"color": "independent"}}}
],
"spacing": 22,
"resolve": {"scale": {"color": "independent"}}
}
